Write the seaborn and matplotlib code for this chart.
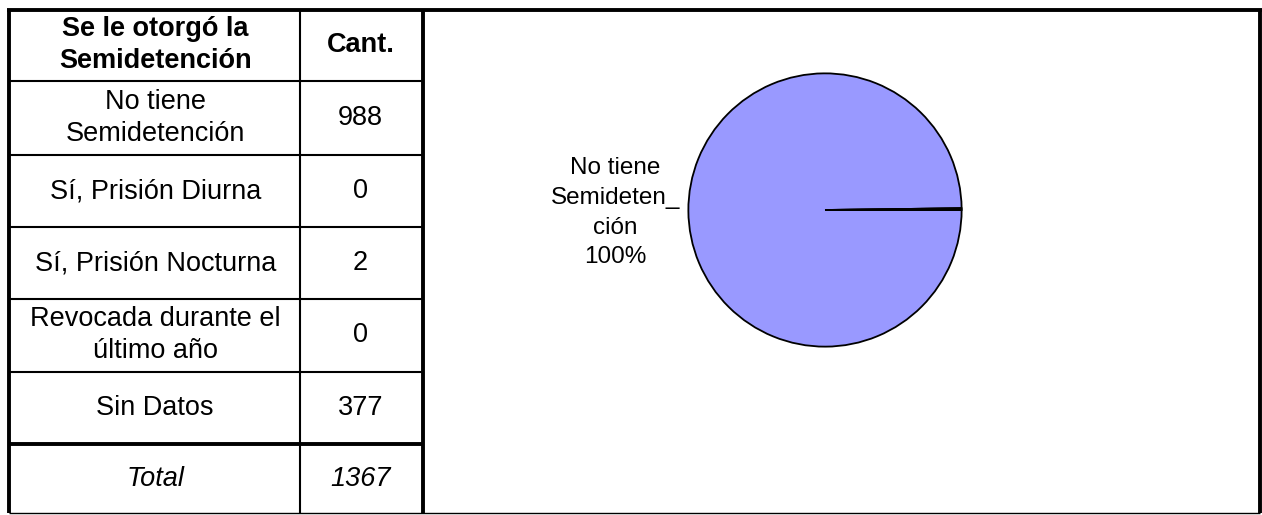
import matplotlib
matplotlib.use("Agg")
import matplotlib.pyplot as plt
import seaborn as sns

sns.set_theme(style="white")
plt.rcParams['font.family'] = ['Liberation Sans', 'DejaVu Sans']
plt.rcParams['text.color'] = 'black'

# ---- data ----
header_cat = "Se le otorgó la\nSemidetención"
header_val = "Cant."
categories = ["No tiene\nSemidetención", "Sí, Prisión Diurna", "Sí, Prisión Nocturna",
              "Revocada durante el\núltimo año", "Sin Datos"]
counts = [988, 0, 2, 0, 377]
total_label = "Total"
total_value = 1367
pie_categories = ["No tiene Semidetención", "Sí, Prisión Diurna", "Sí, Prisión Nocturna",
                  "Revocada durante el último año"]
pie_values = [988, 0, 2, 0]
pie_label_text = "No tiene\nSemideten_\nción"
pie_colors = ["#9999FF", "#993366", "#FFFFCC", "#CCFFFF"]

W, H = 1262, 515
fig = plt.figure(figsize=(W / 100, H / 100), dpi=100)
bg = fig.add_axes([0, 0, 1, 1])
bg.set_xlim(0, W)
bg.set_ylim(H, 0)
bg.axis("off")

# table geometry (pixels)
x_left, x_mid, x_tab_right, x_right = 8.5, 300, 423, 1260
row_y = [10, 80.5, 155, 227, 299, 371.5, 444, 513]

thin = 1.5
thick = 2.8
for i, y in enumerate(row_y[1:-1], start=1):
    lw = thick if i == 6 else thin
    bg.plot([x_left, x_tab_right], [y, y], color="black", lw=lw, solid_capstyle="butt")
bg.plot([x_left - 1.5, x_right + 1.5], [row_y[0], row_y[0]], color="black", lw=thick, solid_capstyle="butt")
bg.plot([x_left, x_right], [row_y[-1], row_y[-1]], color="black", lw=1.0, solid_capstyle="butt")
bg.plot([x_left, x_left], [row_y[0], row_y[-1]], color="black", lw=thick, solid_capstyle="butt")
bg.plot([x_mid, x_mid], [row_y[0], row_y[-1]], color="black", lw=thin, solid_capstyle="butt")
bg.plot([x_tab_right, x_tab_right], [row_y[0], row_y[-1]], color="black", lw=thick, solid_capstyle="butt")
bg.plot([x_right, x_right], [row_y[0], row_y[-1]], color="black", lw=thick, solid_capstyle="butt")

fs = 19.5
cx1 = (x_left + x_mid) / 2 + 1
cx2 = (x_mid + x_tab_right) / 2 - 1
def cy(i):
    return (row_y[i] + row_y[i + 1]) / 2

ls = 1.32
bg.text(cx1, cy(0), header_cat, ha="center", va="center", fontsize=fs,
        fontweight="bold", linespacing=ls)
bg.text(cx2, cy(0), header_val, ha="center", va="center", fontsize=fs, fontweight="bold")
for i, (c, v) in enumerate(zip(categories, counts), start=1):
    bg.text(cx1, cy(i), c, ha="center", va="center", fontsize=fs, linespacing=ls)
    bg.text(cx2, cy(i), str(v), ha="center", va="center", fontsize=fs)
bg.text(cx1, cy(6), total_label, ha="center", va="center", fontsize=fs, style="italic")
bg.text(cx2, cy(6), str(total_value), ha="center", va="center", fontsize=fs, style="italic")

# ---- pie ----
pcx, pcy, pr = 825, 210, 138
pax = fig.add_axes([(pcx - pr) / W, (H - pcy - pr) / H, 2 * pr / W, 2 * pr / H])
tot = sum(pie_values)
start = 360.0 * pie_values[2] / tot
pax.pie(pie_values, colors=pie_colors, startangle=start, counterclock=True,
        wedgeprops=dict(edgecolor="black", linewidth=1.3))
pax.set_xlim(-1.01, 1.01)
pax.set_ylim(-1.01, 1.01)
pct = round(100 * pie_values[0] / tot)
pax.text((613 - pcx) / pr, (pcy - 213) / pr, f"{pie_label_text}\n{pct}%",
         ha="center", va="center", fontsize=17.5, linespacing=1.45, clip_on=False)

fig.savefig("out.png", dpi=100)
